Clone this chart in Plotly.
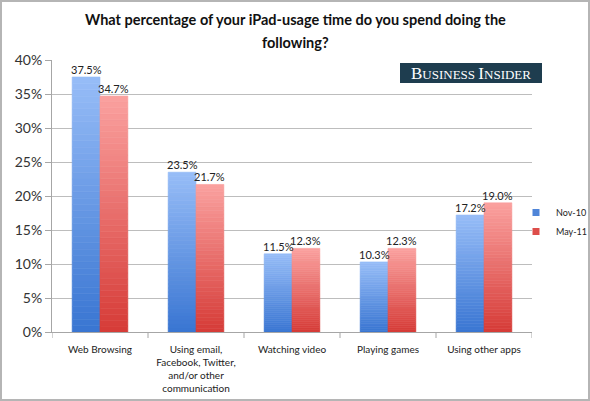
import plotly.graph_objects as go

categories = ["Web Browsing", "Using email,<br>Facebook, Twitter,<br>and/or other<br>communication",
              "Watching video", "Playing games", "Using other apps"]
nov10 = [37.5, 23.5, 11.5, 10.3, 17.2]
may11 = [34.7, 21.7, 12.3, 12.3, 19.0]
series_names = ["Nov-10", "May-11"]
legend_colors = ["#4f85d8", "#dd4d4a"]
y_ticks = [0, 5, 10, 15, 20, 25, 30, 35, 40]
title_lines = ["What percentage of your iPad-usage time do you spend doing the", "following?"]

W, H = 590, 401
ML, MR, MT, MB = 52, 58, 60, 69
PW, PH = W - ML - MR, H - MT - MB

def px_x(p):
    return (p - ML) / PW

def px_y(p):
    return 1 - (p - MT) / PH

def lerp(c1, c2, t):
    return "rgb(%d,%d,%d)" % tuple(round(a + (b - a) * t) for a, b in zip(c1, c2))

grads = {
    "Nov-10": ((150, 188, 247), (58, 118, 210)),
    "May-11": ((250, 160, 158), (214, 60, 56)),
}
bw = 0.29
offsets = {"Nov-10": -bw, "May-11": 0.0}

fig = go.Figure()
N = 40
for name, vals, lc in zip(series_names, [nov10, may11], legend_colors):
    top, bot = grads[name]
    for k in range(N):
        t = k / (N - 1)  # 0 bottom -> 1 top
        col = lerp(bot, top, t)
        fig.add_trace(go.Bar(
            x=list(range(len(categories))),
            y=[v / N for v in vals],
            base=[v * k / N for v in vals],
            width=bw, offset=offsets[name],
            marker=dict(color=col, line=dict(width=0.6, color=col)),
            name=name, legendgroup=name, showlegend=False, hoverinfo="skip",
        ))
    # small square legend swatch
    fig.add_trace(go.Scatter(
        x=[None], y=[None], mode="markers", name=name, legendgroup=name,
        marker=dict(symbol="square", size=7, color=lc), showlegend=True,
    ))

annotations = []
for name, vals in zip(series_names, [nov10, may11]):
    for i, v in enumerate(vals):
        annotations.append(dict(
            x=i + offsets[name] + bw / 2, y=v, xref="x", yref="y",
            text="%.1f%%" % v, showarrow=False, yanchor="bottom", yshift=-1,
            font=dict(family="Lato, sans-serif", size=11, color="#222"),
        ))

# title (two lines, Excel-like line spacing)
for line, ypx in zip(title_lines, [19, 42]):
    annotations.append(dict(
        x=px_x(295), y=px_y(ypx), xref="paper", yref="paper", text="<b>%s</b>" % line,
        showarrow=False, xanchor="center", yanchor="middle",
        font=dict(family="Lato, sans-serif", size=14.5, color="#111"),
    ))

annotations.append(dict(
    x=(px_x(400) + px_x(542)) / 2, y=(px_y(63) + px_y(83)) / 2, xref="paper", yref="paper",
    text="<span style='font-size:17px'>B</span>USINESS <span style='font-size:17px'>I</span>NSIDER",
    showarrow=False, font=dict(family="Liberation Serif, serif", size=13, color="white"),
    xanchor="center", yanchor="middle",
))

shapes = [
    dict(type="rect", xref="paper", yref="paper",
         x0=px_x(400), x1=px_x(542), y0=px_y(83), y1=px_y(63),
         fillcolor="#1e3d4f", line=dict(width=0), layer="above"),
    dict(type="rect", xref="paper", yref="paper",
         x0=px_x(1), x1=px_x(W - 1), y0=px_y(H - 1), y1=px_y(1),
         line=dict(width=2, color="#b5b5b5"), fillcolor="rgba(0,0,0,0)"),
]

fig.update_layout(
    width=W, height=H,
    margin=dict(l=ML, r=MR, t=MT, b=MB, autoexpand=False),
    paper_bgcolor="white", plot_bgcolor="white",
    barmode="overlay",
    showlegend=True,
    legend=dict(x=px_x(516), y=px_y(198), xanchor="left", yanchor="top",
                font=dict(family="Lato, sans-serif", size=9, color="#222"),
                itemwidth=30, tracegroupgap=0, bgcolor="rgba(0,0,0,0)"),
    annotations=annotations, shapes=shapes,
    xaxis=dict(range=[-0.5, len(categories) - 0.5], automargin=False, tickangle=0,
               tickvals=list(range(len(categories))), ticktext=categories,
               ticklabelstandoff=8,
               showgrid=False, showline=True, linecolor="#a6a6a6", linewidth=1,
               ticks="", zeroline=False,
               tickfont=dict(family="Lato, sans-serif", size=10, color="#222")),
    yaxis=dict(range=[0, 40], tickvals=y_ticks, ticktext=["%d%%" % t for t in y_ticks],
               automargin=False,
               showgrid=True, gridcolor="#bdbdbd", gridwidth=1,
               showline=True, linecolor="#a6a6a6", ticks="outside", ticklen=6,
               tickcolor="#a6a6a6", zeroline=False,
               tickfont=dict(family="Lato, sans-serif", size=14, color="#333")),
)

# category boundary ticks on x axis
for b in range(len(categories) + 1):
    fig.add_shape(type="line", xref="x", yref="paper", x0=b - 0.5, x1=b - 0.5,
                  y0=0, y1=-6 / PH, line=dict(color="#a6a6a6", width=1))

fig.write_html("out.html")
